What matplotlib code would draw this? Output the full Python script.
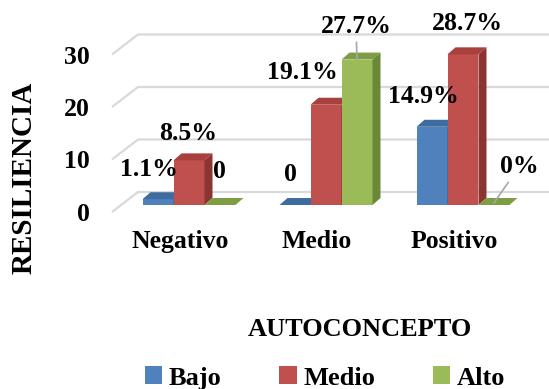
import matplotlib
matplotlib.use("Agg")
import matplotlib.pyplot as plt
from matplotlib.patches import Polygon, Patch

plt.rcParams['font.family'] = ['Liberation Serif', 'DejaVu Serif']
plt.rcParams['font.weight'] = 'bold'

categories = ["Negativo", "Medio", "Positivo"]
series_names = ["Bajo", "Medio", "Alto"]
bajo = [1.1, 0, 14.9]
medio = [8.5, 19.1, 28.7]
alto = [0, 27.7, 0]
labels_bajo = ["1.1%", "0", "14.9%"]
labels_medio = ["8.5%", "19.1%", "28.7%"]
labels_alto = ["0", "27.7%", "0%"]
yticks = [0, 10, 20, 30]

series = [bajo, medio, alto]
series_labels = [labels_bajo, labels_medio, labels_alto]
front_cols = ["#4F81BD", "#C0504D", "#9BBB59"]
top_cols = ["#3F6CA0", "#A8413E", "#7F9E44"]
side_cols = ["#36598A", "#8A3532", "#6B8837"]

W, H = 549, 389
fig = plt.figure(figsize=(W / 100, H / 100), dpi=100)
# axes box in pixels
L, R, B, T = 112, 549, 212, 18
ax = fig.add_axes([L / W, 1 - B / H, (R - L) / W, (B - T) / H])

PX_X = 137.0   # pixels per category unit
PX_Y = 5.25    # pixels per value unit
X0 = 189.0     # pixel of category 0
Y0 = 205.0     # pixel of value 0 (bar baseline)
ax.set_xlim((L - X0) / PX_X, (R - X0) / PX_X)
ax.set_ylim((Y0 - B) / PX_Y, (Y0 - T) / PX_Y)
for s in ax.spines.values():
    s.set_visible(False)

w = 31 / PX_X
ddx = 8 / PX_X
ddy = 7 / PX_Y

# wall gridlines
xl = ax.get_xlim()[0]
xr = ax.get_xlim()[1]
front_off = (Y0 - B) / PX_Y
back_off = (Y0 - 192) / PX_Y
back_dx = 26 / PX_X
for v in yticks:
    ax.plot([xl, xl + back_dx, xr], [v + front_off, v + back_off, v + back_off],
            color="#D9D9D9", lw=1.6, zorder=1, solid_capstyle='butt', clip_on=False)

# bars
label_offsets = {
    (0, 0): (-9, 30), (0, 1): (-1, 27), (0, 2): (-1, 31),
    (1, 0): (-5, 28), (1, 1): (-24, 32), (1, 2): (-1, 33),
    (2, 0): (-9, 30), (2, 1): (4, 31), (2, 2): (25, 36),
}
leaders = {(1, 2), (2, 2)}
z = 3
for i, cat in enumerate(categories):
    for j, vals in enumerate(series):
        v = vals[i]
        xc = i + (j - 1) * w
        x0, x1 = xc - w / 2, xc + w / 2
        ax.bar(xc, v, width=w, color=front_cols[j], linewidth=0, zorder=z)
        ax.add_patch(Polygon([(x0, v), (x1, v), (x1 + ddx, v + ddy), (x0 + ddx, v + ddy)],
                             closed=True, facecolor=top_cols[j], edgecolor='none', zorder=z))
        if v > 0:
            ax.add_patch(Polygon([(x1, 0), (x1, v), (x1 + ddx, v + ddy), (x1 + ddx, ddy)],
                                 closed=True, facecolor=side_cols[j], edgecolor='none', zorder=z))
        z += 1

for i, cat in enumerate(categories):
    for j, vals in enumerate(series):
        v = vals[i]
        xc = i + (j - 1) * w
        off = label_offsets[(i, j)]
        kw = {}
        if (i, j) in leaders:
            kw['arrowprops'] = dict(arrowstyle='-', color='#A6A6A6', lw=1.2,
                                    shrinkA=1, shrinkB=0)
        ax.annotate(series_labels[j][i], xy=(xc, v + (ddy * 0.3 if v == 0 else 0)),
                    xytext=off, textcoords='offset pixels',
                    ha='center', va='center', fontsize=18.5, fontweight='bold',
                    color='black', zorder=50, **kw)

# y tick labels at the front wall edge
ax.set_yticks([v + front_off for v in yticks])
ax.set_yticklabels([str(v) for v in yticks], fontsize=18.5, fontweight='bold')
ax.tick_params(axis='y', length=0, pad=16)
# category labels at the front floor edge
ax.set_xticks([i - 9 / PX_X for i in range(len(categories))])
ax.set_xticklabels(categories, fontsize=18.5, fontweight='bold')
ax.tick_params(axis='x', length=0, pad=13)

fig.text(24 / W, 1 - 178 / H, "RESILIENCIA", rotation=90, ha='center', va='center',
         fontsize=21, fontweight='bold')
fig.text(360 / W, 1 - 330 / H, "AUTOCONCEPTO", ha='center', va='center',
         fontsize=19, fontweight='bold')

handles = [Patch(facecolor=c, edgecolor='none') for c in front_cols]
fig.legend(handles, series_names, ncol=3, loc='center', bbox_to_anchor=(325 / W, 1 - 378 / H),
           frameon=False, handlelength=0.65, handleheight=0.65,
           handletextpad=0.25, columnspacing=2.2, borderpad=0,
           prop={'weight': 'bold', 'size': 19})

fig.savefig("out.png", dpi=100)
